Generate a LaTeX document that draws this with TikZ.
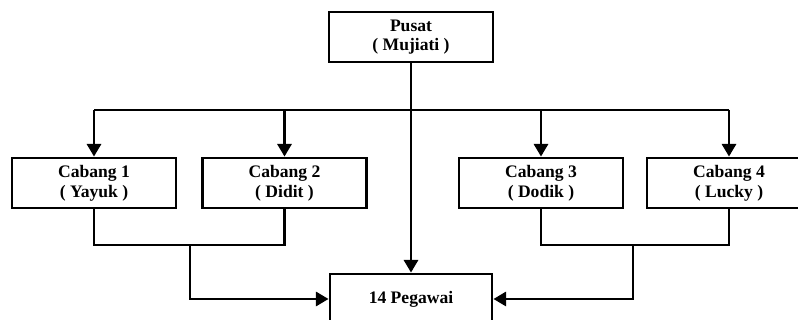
\documentclass[tikz,border=0pt]{standalone}
\usepackage{fontspec}
\setmainfont{Liberation Serif}
\usetikzlibrary{arrows.meta}

\begin{document}
\begin{tikzpicture}[x=0.025cm, y=-0.025cm,
    box/.style={draw, line width=2pt, minimum width=4.1cm, minimum height=1.25cm,
      align=center, font=\fontsize{12.5}{14}\selectfont\bfseries},
    line/.style={line width=2pt},
    arr/.style={line width=2pt, -{Triangle[width=10pt, length=9pt]}}]
    \useasboundingbox (0,0) rectangle (798,320);

    % kotak
    \node[box] (pusat) at (411, 37) {Pusat\\( Mujiati )};
    \node[box] (cabang1) at (94, 183) {Cabang 1\\( Yayuk )};
    \node[box] (cabang2) at (284.5, 183) {Cabang 2\\( Didit )};
    \node[box] (cabang3) at (541, 183) {Cabang 3\\( Dodik )};
    \node[box] (cabang4) at (729, 183) {Cabang 4\\( Lucky )};
    \node[box, minimum width=4.05cm] (pegawai) at (411, 299) {14 Pegawai};

    % titik bantu
    \coordinate (bar) at (411, 110);
    \coordinate (jl) at (190, 245);
    \coordinate (jr) at (633, 245);

    % garis dari pusat
    \draw[arr] (pusat.south) -- (pegawai.north);
    \draw[line] (cabang1.north |- bar) -- (cabang4.north |- bar);
    \draw[arr] (cabang1.north |- bar) -- (cabang1.north);
    \draw[arr] (cabang2.north |- bar) -- (cabang2.north);
    \draw[arr] (cabang3.north |- bar) -- (cabang3.north);
    \draw[arr] (cabang4.north |- bar) -- (cabang4.north);

    % garis ke pegawai
    \draw[line] (cabang1.south) |- (jl) -| (cabang2.south);
    \draw[arr] (jl) |- (pegawai.west);
    \draw[line] (cabang3.south) |- (jr) -| (cabang4.south);
    \draw[arr] (jr) |- (pegawai.east);
\end{tikzpicture}
\end{document}
